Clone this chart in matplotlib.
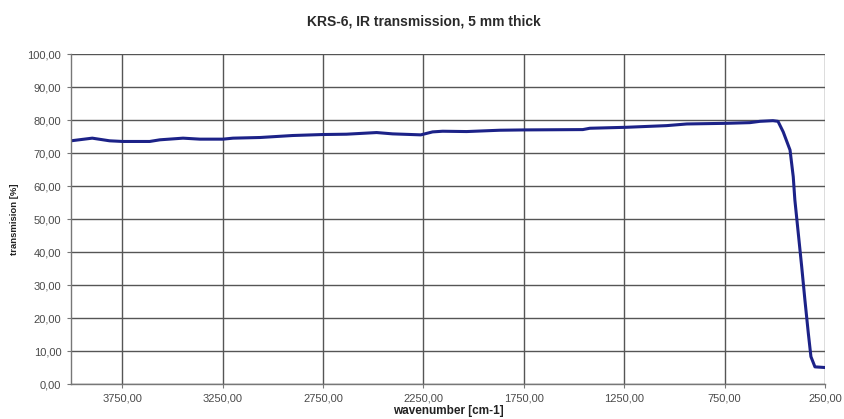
import matplotlib
matplotlib.use("Agg")
from matplotlib import pyplot as plt
from matplotlib.ticker import FuncFormatter

plt.rcParams['font.family'] = ['Liberation Sans', 'DejaVu Sans']

# data
wavenumber = [4005, 3899, 3813, 3748, 3613, 3562, 3447, 3363, 3248, 3198,
              3063, 2902, 2752, 2633, 2483, 2403, 2263, 2204, 2154, 2035,
              1870, 1746, 1456, 1421, 1237, 1038, 938, 739, 624, 574,
              509, 484, 458, 424, 408, 400, 383, 366, 350, 333,
              320, 300, 250]
transmission = [73.7, 74.5, 73.7, 73.5, 73.5, 74.0, 74.5, 74.2, 74.2, 74.5,
                74.7, 75.3, 75.6, 75.7, 76.2, 75.8, 75.5, 76.4, 76.6, 76.5,
                76.9, 77.0, 77.1, 77.5, 77.8, 78.3, 78.8, 79.0, 79.2, 79.6,
                79.8, 79.6, 76.4, 70.9, 62.8, 55.8, 45.7, 35.6, 25.5, 15.4,
                8.3, 5.2, 5.0]
xticks = [3750, 3250, 2750, 2250, 1750, 1250, 750, 250]
yticks = [0, 10, 20, 30, 40, 50, 60, 70, 80, 90, 100]

def comma_fmt(v, pos):
    return f"{v:.2f}".replace('.', ',')

fig = plt.figure(figsize=(8.45, 4.19), dpi=100)
ax = fig.add_axes([0.084, 0.0835, 0.8923, 0.7876])

ax.plot(wavenumber, transmission, color='#1c2288', lw=2.2, solid_joinstyle='round')

ax.set_xlim(4005, 250)
ax.set_ylim(0, 100)
ax.set_xticks(xticks)
ax.set_yticks(yticks)
ax.xaxis.set_major_formatter(FuncFormatter(comma_fmt))
ax.yaxis.set_major_formatter(FuncFormatter(comma_fmt))

ax.grid(True, color='#555555', lw=1.0)
ax.set_axisbelow(True)
for s in ['top', 'right']:
    ax.spines[s].set_visible(False)
for s in ['left', 'bottom']:
    ax.spines[s].set_color('#777777')
    ax.spines[s].set_linewidth(1.0)
ax.tick_params(axis='both', length=3, color='#777777', labelsize=8, labelcolor='#4a4a4a')
ax.tick_params(axis='x', pad=4)
ax.tick_params(axis='y', pad=4)

ax.set_xlabel('wavenumber [cm-1]', fontsize=8.5, fontweight='bold', color='#222222', labelpad=1)
ax.set_ylabel('transmision [%]', fontsize=6.8, fontweight='bold', color='#222222', labelpad=6)
fig.suptitle('KRS-6, IR transmission, 5 mm thick', x=0.502, y=0.965, fontsize=10,
             fontweight='bold', color='#2a2a2a')

fig.savefig('out.png', dpi=100)
